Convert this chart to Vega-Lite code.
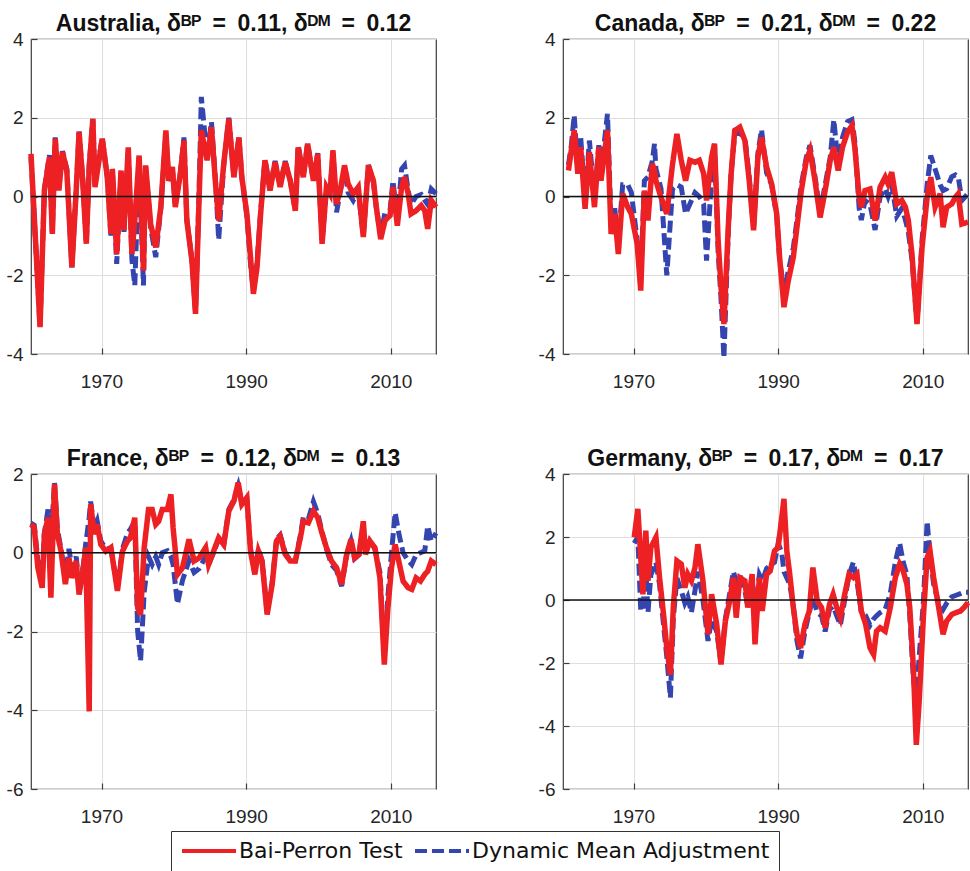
{
  "$schema": "https://vega.github.io/schema/vega-lite/v6.json",
  "background": "white",
  "padding": {"left": 0, "top": 12, "right": 0, "bottom": 0},
  "config": {
    "font": "Liberation Sans",
    "view": {"stroke": "#3c3c3c", "strokeWidth": 1.2},
    "axis": {
      "grid": true, "gridColor": "#dedede", "gridWidth": 1,
      "domain": false, "ticks": true, "tickSize": -6, "tickColor": "#3c3c3c", "tickWidth": 1.2,
      "labelFont": "Liberation Sans", "labelFontSize": 19, "labelColor": "#262626",
      "labelFlush": false, "labelBound": false, "labelOverlap": false,
      "labelExpr": "'' + datum.value",
      "title": null
    },
    "axisX": {"labelPadding": 24},
    "axisY": {"labelPadding": 14, "minExtent": 30, "maxExtent": 30},
    "title": {"font": "Liberation Sans", "fontSize": 23, "fontWeight": "bold", "color": "#111111", "anchor": "middle", "frame": "group", "offset": -6},
    "legend": {
      "orient": "none", "legendX": 140, "legendY": 792,
      "direction": "horizontal", "symbolType": "M-1,0H5", "symbolSize": 324, "symbolStrokeWidth": 4,
      "labelFont": "DejaVu Sans", "labelFontSize": 22, "labelColor": "#111111", "labelLimit": 500,
      "labelOffset": 37, "columnPadding": 4, "padding": 9,
      "strokeColor": "#333333", "fillColor": "white"
    }
  },
  "datasets": {
    "au": [
      {"t":1960.25,"bp":1.08,"dm":1.0},{"t":1961.5,"bp":-3.32,"dm":-3.3},{"t":1962.1,"bp":0.15,"dm":0.2},{"t":1962.8,"bp":1.0,"dm":1.05},
      {"t":1963.2,"bp":-0.95,"dm":-0.9},{"t":1963.6,"bp":1.47,"dm":1.5},{"t":1964.1,"bp":0.15,"dm":0.2},{"t":1964.6,"bp":1.13,"dm":1.15},
      {"t":1965.2,"bp":0.66,"dm":0.7},{"t":1965.9,"bp":-1.8,"dm":-1.8},{"t":1966.5,"bp":0.15,"dm":0.2},{"t":1966.9,"bp":1.64,"dm":1.65},
      {"t":1967.4,"bp":0.4,"dm":0.45},{"t":1967.9,"bp":-1.2,"dm":-1.2},{"t":1968.3,"bp":0.75,"dm":0.8},{"t":1968.8,"bp":1.97,"dm":1.97},
      {"t":1969.1,"bp":0.24,"dm":0.3},{"t":1970.1,"bp":1.47,"dm":1.5},{"t":1970.8,"bp":0.49,"dm":0.5},{"t":1971.3,"bp":-0.95,"dm":-1.0},
      {"t":1971.5,"bp":0.7,"dm":0.7},{"t":1972.1,"bp":-1.46,"dm":-1.71},{"t":1972.7,"bp":0.66,"dm":0.6},{"t":1973.1,"bp":-0.86,"dm":-0.9},
      {"t":1973.7,"bp":1.25,"dm":1.2},{"t":1974.2,"bp":-1.46,"dm":-1.6},{"t":1974.6,"bp":-0.61,"dm":-2.26},{"t":1975.2,"bp":1.04,"dm":1.0},
      {"t":1975.8,"bp":-1.88,"dm":-2.26},{"t":1976.1,"bp":0.79,"dm":0.75},{"t":1976.8,"bp":-0.7,"dm":-0.8},{"t":1977.5,"bp":-1.29,"dm":-1.54},
      {"t":1978.2,"bp":-0.27,"dm":-0.3},{"t":1978.9,"bp":1.68,"dm":1.6},{"t":1979.3,"bp":0.4,"dm":0.4},{"t":1979.8,"bp":0.75,"dm":0.7},
      {"t":1980.2,"bp":-0.27,"dm":-0.2},{"t":1980.9,"bp":0.58,"dm":0.6},{"t":1981.4,"bp":1.42,"dm":1.5},{"t":1981.8,"bp":-0.61,"dm":-0.6},
      {"t":1982.5,"bp":-1.63,"dm":-1.6},{"t":1983.0,"bp":-2.98,"dm":-2.95},{"t":1983.5,"bp":-0.02,"dm":0.2},{"t":1983.8,"bp":1.68,"dm":2.53},
      {"t":1984.6,"bp":0.92,"dm":1.0},{"t":1985.2,"bp":1.76,"dm":1.9},{"t":1985.8,"bp":0.24,"dm":0.3},{"t":1986.2,"bp":-0.61,"dm":-1.1},
      {"t":1986.9,"bp":0.83,"dm":0.8},{"t":1987.6,"bp":1.97,"dm":2.0},{"t":1988.3,"bp":0.49,"dm":0.5},{"t":1989.0,"bp":1.5,"dm":1.5},
      {"t":1989.4,"bp":0.49,"dm":0.5},{"t":1990.1,"bp":-0.44,"dm":-0.5},{"t":1990.6,"bp":-1.54,"dm":-1.7},{"t":1991.0,"bp":-2.47,"dm":-2.4},
      {"t":1991.5,"bp":-1.8,"dm":-1.7},{"t":1992.0,"bp":-0.44,"dm":-0.4},{"t":1992.6,"bp":0.92,"dm":0.95},{"t":1993.3,"bp":0.15,"dm":0.2},
      {"t":1994.0,"bp":0.87,"dm":0.9},{"t":1994.7,"bp":0.24,"dm":0.3},{"t":1995.4,"bp":0.87,"dm":0.9},{"t":1996.1,"bp":0.4,"dm":0.4},
      {"t":1996.8,"bp":-0.36,"dm":-0.35},{"t":1997.2,"bp":1.25,"dm":1.3},{"t":1997.9,"bp":0.49,"dm":0.5},{"t":1998.5,"bp":1.34,"dm":1.35},
      {"t":1999.3,"bp":0.4,"dm":0.4},{"t":1999.9,"bp":1.08,"dm":1.1},{"t":2000.5,"bp":-1.2,"dm":-1.15},{"t":2001.1,"bp":0.24,"dm":0.2},
      {"t":2001.6,"bp":0.07,"dm":0.1},{"t":2002.0,"bp":1.17,"dm":1.1},{"t":2002.5,"bp":-0.19,"dm":-0.4},{"t":2003.0,"bp":0.15,"dm":0.1},
      {"t":2003.6,"bp":0.79,"dm":0.7},{"t":2004.1,"bp":0.32,"dm":0.1},{"t":2004.8,"bp":0.07,"dm":-0.1},{"t":2005.5,"bp":0.24,"dm":0.15},
      {"t":2006.2,"bp":-1.03,"dm":-1.0},{"t":2006.9,"bp":0.79,"dm":0.8},{"t":2007.6,"bp":0.4,"dm":0.35},{"t":2008.0,"bp":-0.27,"dm":-0.3},
      {"t":2008.6,"bp":-1.08,"dm":-1.0},{"t":2009.2,"bp":-0.61,"dm":-0.4},{"t":2009.9,"bp":-0.48,"dm":-0.35},{"t":2010.3,"bp":0.24,"dm":0.4},
      {"t":2010.9,"bp":-0.74,"dm":-0.6},{"t":2011.5,"bp":0.24,"dm":0.7},{"t":2011.9,"bp":0.49,"dm":0.79},{"t":2012.4,"bp":0.07,"dm":0.15},
      {"t":2012.8,"bp":-0.44,"dm":-0.2},{"t":2013.5,"bp":-0.36,"dm":0.0},{"t":2014.2,"bp":-0.23,"dm":0.05},{"t":2014.7,"bp":-0.36,"dm":-0.1},
      {"t":2015.1,"bp":-0.82,"dm":-0.2},{"t":2015.6,"bp":-0.1,"dm":0.19},{"t":2016.25,"bp":-0.27,"dm":0.07}
    ],
    "ca": [
      {"t":1961.0,"bp":0.66,"dm":0.8},{"t":1961.4,"bp":1.17,"dm":1.3},{"t":1961.8,"bp":1.68,"dm":2.06},{"t":1962.3,"bp":0.58,"dm":0.7},
      {"t":1962.7,"bp":1.25,"dm":1.5},{"t":1963.3,"bp":-0.31,"dm":-0.1},{"t":1963.9,"bp":1.13,"dm":1.42},{"t":1964.6,"bp":-0.27,"dm":0.0},
      {"t":1965.2,"bp":1.25,"dm":1.3},{"t":1965.5,"bp":0.4,"dm":0.6},{"t":1966.4,"bp":1.68,"dm":2.1},{"t":1966.9,"bp":-0.95,"dm":-0.7},
      {"t":1967.4,"bp":-0.44,"dm":-0.3},{"t":1967.9,"bp":-1.46,"dm":-1.2},{"t":1968.5,"bp":0.07,"dm":0.3},{"t":1969.2,"bp":-0.27,"dm":0.3},
      {"t":1969.7,"bp":-0.44,"dm":0.1},{"t":1970.5,"bp":-1.2,"dm":-1.1},{"t":1971.0,"bp":-2.39,"dm":-2.1},{"t":1971.5,"bp":0.15,"dm":0.4},
      {"t":1972.0,"bp":-0.61,"dm":0.5},{"t":1972.6,"bp":0.83,"dm":0.9},{"t":1972.9,"bp":0.65,"dm":1.34},{"t":1973.1,"bp":0.4,"dm":0.7},
      {"t":1973.8,"bp":-0.02,"dm":0.2},{"t":1974.6,"bp":-0.44,"dm":-2.0},{"t":1975.4,"bp":0.83,"dm":0.2},{"t":1976.0,"bp":1.59,"dm":0.3},
      {"t":1976.6,"bp":0.92,"dm":0.24},{"t":1977.2,"bp":0.4,"dm":-0.44},{"t":1977.8,"bp":0.92,"dm":-0.19},{"t":1978.5,"bp":0.87,"dm":0.1},
      {"t":1979.1,"bp":0.92,"dm":0.0},{"t":1979.7,"bp":0.58,"dm":-0.2},{"t":1980.1,"bp":-0.1,"dm":-1.63},{"t":1980.8,"bp":1.0,"dm":0.5},
      {"t":1981.2,"bp":1.34,"dm":1.34},{"t":1981.7,"bp":-1.12,"dm":-1.4},{"t":1982.1,"bp":-2.3,"dm":-2.6},{"t":1982.5,"bp":-3.24,"dm":-4.1},
      {"t":1983.1,"bp":-0.78,"dm":-0.9},{"t":1983.5,"bp":0.58,"dm":0.6},{"t":1984.0,"bp":1.68,"dm":1.6},{"t":1984.7,"bp":1.76,"dm":1.6},
      {"t":1985.4,"bp":1.42,"dm":1.5},{"t":1986.0,"bp":0.4,"dm":0.5},{"t":1986.6,"bp":-0.86,"dm":-0.8},{"t":1987.2,"bp":1.0,"dm":1.1},
      {"t":1987.7,"bp":1.5,"dm":1.7},{"t":1988.4,"bp":0.75,"dm":0.6},{"t":1989.1,"bp":0.32,"dm":0.3},{"t":1989.8,"bp":-0.44,"dm":-0.5},
      {"t":1990.2,"bp":-1.54,"dm":-1.6},{"t":1990.8,"bp":-2.81,"dm":-2.4},{"t":1991.4,"bp":-2.14,"dm":-1.9},{"t":1992.1,"bp":-1.54,"dm":-1.3},
      {"t":1992.6,"bp":-0.78,"dm":-0.6},{"t":1993.2,"bp":0.15,"dm":0.3},{"t":1993.9,"bp":0.92,"dm":1.0},{"t":1994.4,"bp":1.17,"dm":1.3},
      {"t":1995.1,"bp":0.4,"dm":0.5},{"t":1995.8,"bp":-0.53,"dm":-0.4},{"t":1996.5,"bp":0.15,"dm":0.3},{"t":1997.2,"bp":0.92,"dm":1.0},
      {"t":1997.7,"bp":1.25,"dm":1.95},{"t":1998.3,"bp":0.66,"dm":0.8},{"t":1998.9,"bp":1.25,"dm":1.5},{"t":1999.6,"bp":1.64,"dm":1.9},
      {"t":2000.2,"bp":1.8,"dm":1.95},{"t":2000.6,"bp":1.25,"dm":1.4},{"t":2001.2,"bp":-0.02,"dm":-0.3},{"t":2001.5,"bp":-0.27,"dm":-0.6},
      {"t":2002.0,"bp":0.15,"dm":-0.1},{"t":2002.7,"bp":0.19,"dm":-0.2},{"t":2003.4,"bp":-0.61,"dm":-0.85},{"t":2004.1,"bp":0.24,"dm":0.0},
      {"t":2004.8,"bp":0.49,"dm":0.2},{"t":2005.2,"bp":0.32,"dm":0.0},{"t":2005.7,"bp":0.62,"dm":0.3},{"t":2006.4,"bp":-0.19,"dm":-0.5},
      {"t":2007.1,"bp":-0.1,"dm":-0.3},{"t":2007.6,"bp":-0.27,"dm":-0.6},{"t":2008.0,"bp":-0.61,"dm":-0.9},{"t":2008.5,"bp":-1.46,"dm":-1.6},
      {"t":2009.2,"bp":-3.24,"dm":-3.2},{"t":2009.9,"bp":-1.29,"dm":-1.1},{"t":2010.6,"bp":-0.02,"dm":0.3},{"t":2011.1,"bp":0.49,"dm":1.04},
      {"t":2011.7,"bp":-0.27,"dm":0.7},{"t":2012.4,"bp":0.07,"dm":0.3},{"t":2012.8,"bp":-0.78,"dm":0.15},{"t":2013.3,"bp":-0.27,"dm":0.2},
      {"t":2014.0,"bp":-0.19,"dm":0.5},{"t":2014.5,"bp":-0.02,"dm":0.55},{"t":2014.9,"bp":0.07,"dm":0.5},{"t":2015.4,"bp":-0.7,"dm":-0.1},
      {"t":2016.25,"bp":-0.65,"dm":0.07}
    ],
    "fr": [
      {"t":1960.25,"bp":0.72,"dm":0.75},{"t":1960.7,"bp":0.64,"dm":0.7},{"t":1961.2,"bp":-0.38,"dm":-0.2},{"t":1961.8,"bp":-0.89,"dm":-0.7},
      {"t":1962.1,"bp":0.47,"dm":0.5},{"t":1962.6,"bp":0.89,"dm":1.1},{"t":1963.0,"bp":-1.14,"dm":0.3},{"t":1963.5,"bp":1.74,"dm":1.78},
      {"t":1963.9,"bp":0.47,"dm":0.6},{"t":1964.4,"bp":0.04,"dm":0.1},{"t":1965.0,"bp":-0.8,"dm":-0.6},{"t":1965.5,"bp":-0.13,"dm":0.1},
      {"t":1965.9,"bp":-0.64,"dm":-0.4},{"t":1966.5,"bp":-0.21,"dm":-0.1},{"t":1966.9,"bp":-1.06,"dm":-0.9},{"t":1967.5,"bp":-0.38,"dm":-0.3},
      {"t":1967.8,"bp":0.13,"dm":0.2},{"t":1968.3,"bp":-4.03,"dm":0.9},{"t":1968.5,"bp":1.23,"dm":1.3},{"t":1969.0,"bp":0.47,"dm":0.6},
      {"t":1969.4,"bp":0.72,"dm":0.8},{"t":1969.9,"bp":0.21,"dm":0.3},{"t":1970.6,"bp":0.04,"dm":0.1},{"t":1971.3,"bp":0.13,"dm":0.1},
      {"t":1972.2,"bp":-0.97,"dm":-0.9},{"t":1972.9,"bp":0.04,"dm":0.1},{"t":1973.6,"bp":0.3,"dm":0.5},{"t":1974.0,"bp":0.38,"dm":0.6},
      {"t":1974.6,"bp":0.89,"dm":0.8},{"t":1975.0,"bp":-1.4,"dm":-2.0},{"t":1975.4,"bp":-1.57,"dm":-2.75},{"t":1975.9,"bp":0.13,"dm":-1.0},
      {"t":1976.5,"bp":1.1,"dm":-0.1},{"t":1977.0,"bp":1.1,"dm":-0.3},{"t":1977.5,"bp":0.72,"dm":-0.1},{"t":1977.9,"bp":0.8,"dm":-0.3},
      {"t":1978.4,"bp":1.1,"dm":0.0},{"t":1979.1,"bp":1.1,"dm":0.05},{"t":1979.6,"bp":1.48,"dm":-0.1},{"t":1979.9,"bp":0.64,"dm":-0.3},
      {"t":1980.5,"bp":-0.55,"dm":-1.3},{"t":1981.2,"bp":-0.38,"dm":-0.7},{"t":1982.1,"bp":0.34,"dm":-0.2},{"t":1982.8,"bp":-0.21,"dm":-0.5},
      {"t":1983.5,"bp":-0.13,"dm":-0.4},{"t":1984.4,"bp":0.13,"dm":-0.1},{"t":1984.8,"bp":-0.3,"dm":-0.3},{"t":1985.5,"bp":0.04,"dm":0.0},
      {"t":1986.2,"bp":0.38,"dm":0.35},{"t":1986.9,"bp":0.21,"dm":0.2},{"t":1987.6,"bp":1.06,"dm":1.1},{"t":1988.3,"bp":1.31,"dm":1.35},
      {"t":1988.9,"bp":1.78,"dm":1.7},{"t":1989.4,"bp":1.23,"dm":1.25},{"t":1990.1,"bp":1.4,"dm":1.35},{"t":1990.6,"bp":0.04,"dm":0.1},
      {"t":1991.2,"bp":-0.55,"dm":-0.5},{"t":1991.7,"bp":0.04,"dm":0.1},{"t":1992.2,"bp":-0.21,"dm":-0.2},{"t":1992.9,"bp":-1.57,"dm":-1.5},
      {"t":1993.6,"bp":-0.8,"dm":-0.75},{"t":1994.2,"bp":0.3,"dm":0.35},{"t":1994.7,"bp":0.42,"dm":0.45},{"t":1995.4,"bp":-0.04,"dm":0.0},
      {"t":1996.1,"bp":-0.21,"dm":-0.2},{"t":1996.8,"bp":-0.21,"dm":-0.2},{"t":1997.5,"bp":0.38,"dm":0.45},{"t":1997.9,"bp":0.8,"dm":0.9},
      {"t":1998.6,"bp":0.76,"dm":0.85},{"t":1999.3,"bp":1.06,"dm":1.3},{"t":1999.9,"bp":0.89,"dm":1.0},{"t":2000.4,"bp":0.55,"dm":0.6},
      {"t":2001.1,"bp":0.13,"dm":0.1},{"t":2001.8,"bp":-0.21,"dm":-0.3},{"t":2002.5,"bp":-0.38,"dm":-0.45},{"t":2003.2,"bp":-0.8,"dm":-0.85},
      {"t":2003.9,"bp":-0.04,"dm":-0.05},{"t":2004.5,"bp":0.34,"dm":0.3},{"t":2005.0,"bp":-0.13,"dm":-0.15},{"t":2005.6,"bp":-0.04,"dm":-0.05},
      {"t":2006.2,"bp":0.8,"dm":0.7},{"t":2006.5,"bp":-0.04,"dm":0.0},{"t":2007.1,"bp":0.3,"dm":0.3},{"t":2007.8,"bp":0.13,"dm":0.1},
      {"t":2008.5,"bp":-0.64,"dm":-0.5},{"t":2009.1,"bp":-2.84,"dm":-2.6},{"t":2009.6,"bp":-1.4,"dm":-1.1},{"t":2010.1,"bp":-0.38,"dm":0.0},
      {"t":2010.6,"bp":0.21,"dm":1.02},{"t":2011.1,"bp":-0.21,"dm":0.5},{"t":2011.7,"bp":-0.72,"dm":0.0},{"t":2012.4,"bp":-0.89,"dm":-0.2},
      {"t":2012.9,"bp":-0.93,"dm":-0.3},{"t":2013.5,"bp":-0.64,"dm":-0.05},{"t":2014.1,"bp":-0.72,"dm":0.0},{"t":2014.7,"bp":-0.55,"dm":0.05},
      {"t":2015.1,"bp":-0.47,"dm":0.68},{"t":2015.6,"bp":-0.21,"dm":0.3},{"t":2016.25,"bp":-0.3,"dm":0.5}
    ],
    "de": [
      {"t":1970.1,"bp":1.99,"dm":1.8},{"t":1970.6,"bp":2.89,"dm":2.0},{"t":1971.0,"bp":1.35,"dm":-0.35},{"t":1971.3,"bp":0.18,"dm":-0.3},
      {"t":1971.7,"bp":2.2,"dm":1.0},{"t":1972.0,"bp":0.61,"dm":-0.4},{"t":1972.4,"bp":1.67,"dm":0.8},{"t":1973.1,"bp":1.99,"dm":1.2},
      {"t":1973.6,"bp":0.71,"dm":0.5},{"t":1974.2,"bp":-0.56,"dm":-0.9},{"t":1974.6,"bp":-1.52,"dm":-1.8},{"t":1975.1,"bp":-2.37,"dm":-3.1},
      {"t":1975.5,"bp":-0.24,"dm":-0.6},{"t":1976.0,"bp":1.24,"dm":0.7},{"t":1976.6,"bp":1.14,"dm":0.3},{"t":1977.1,"bp":0.39,"dm":-0.1},
      {"t":1977.5,"bp":0.82,"dm":0.1},{"t":1978.0,"bp":0.61,"dm":-0.4},{"t":1978.5,"bp":1.03,"dm":0.3},{"t":1978.9,"bp":1.77,"dm":0.9},
      {"t":1979.6,"bp":0.61,"dm":0.0},{"t":1980.3,"bp":-1.09,"dm":-1.3},{"t":1980.8,"bp":0.18,"dm":-0.6},{"t":1981.5,"bp":-0.77,"dm":-1.0},
      {"t":1982.1,"bp":-2.05,"dm":-2.0},{"t":1982.7,"bp":-0.67,"dm":-0.6},{"t":1983.3,"bp":-0.03,"dm":0.2},{"t":1983.8,"bp":0.71,"dm":0.9},
      {"t":1984.2,"bp":-0.56,"dm":0.6},{"t":1984.7,"bp":0.71,"dm":0.8},{"t":1985.4,"bp":0.61,"dm":0.3},{"t":1985.8,"bp":-0.24,"dm":-0.2},
      {"t":1986.4,"bp":0.82,"dm":0.3},{"t":1986.8,"bp":-1.41,"dm":-0.4},{"t":1987.4,"bp":0.71,"dm":0.8},{"t":1987.8,"bp":-0.35,"dm":0.6},
      {"t":1988.4,"bp":0.82,"dm":1.0},{"t":1988.9,"bp":0.92,"dm":1.1},{"t":1989.5,"bp":1.56,"dm":1.2},{"t":1990.0,"bp":1.67,"dm":1.8},
      {"t":1990.5,"bp":2.62,"dm":1.5},{"t":1990.8,"bp":3.21,"dm":0.9},{"t":1991.2,"bp":1.56,"dm":0.7},{"t":1991.6,"bp":0.82,"dm":0.5},
      {"t":1992.1,"bp":-0.24,"dm":-0.2},{"t":1992.6,"bp":-1.09,"dm":-1.3},{"t":1993.1,"bp":-1.52,"dm":-1.85},{"t":1993.7,"bp":-0.77,"dm":-1.0},
      {"t":1994.3,"bp":-0.35,"dm":-0.4},{"t":1994.8,"bp":1.03,"dm":0.1},{"t":1995.4,"bp":-0.03,"dm":-0.4},{"t":1996.0,"bp":-0.24,"dm":-0.5},
      {"t":1996.5,"bp":-0.88,"dm":-1.0},{"t":1997.1,"bp":-0.14,"dm":-0.3},{"t":1997.6,"bp":0.18,"dm":-0.2},{"t":1998.1,"bp":-0.24,"dm":-0.5},
      {"t":1998.6,"bp":-0.56,"dm":-0.8},{"t":1999.2,"bp":0.18,"dm":0.0},{"t":1999.8,"bp":0.82,"dm":0.8},{"t":2000.4,"bp":0.71,"dm":1.2},
      {"t":2000.9,"bp":0.82,"dm":0.6},{"t":2001.5,"bp":-0.35,"dm":-0.4},{"t":2002.1,"bp":-0.77,"dm":-0.5},{"t":2002.7,"bp":-1.52,"dm":-0.8},
      {"t":2003.2,"bp":-1.73,"dm":-0.6},{"t":2003.6,"bp":-0.99,"dm":-0.5},{"t":2004.1,"bp":-0.88,"dm":-0.4},{"t":2004.8,"bp":-0.99,"dm":-0.3},
      {"t":2005.5,"bp":-0.24,"dm":0.2},{"t":2006.2,"bp":0.71,"dm":1.2},{"t":2006.8,"bp":1.14,"dm":1.8},{"t":2007.3,"bp":0.92,"dm":1.2},
      {"t":2007.8,"bp":0.5,"dm":0.8},{"t":2008.2,"bp":-0.24,"dm":-0.5},{"t":2008.7,"bp":-2.16,"dm":-2.5},{"t":2009.1,"bp":-4.6,"dm":-3.2},
      {"t":2009.5,"bp":-3.22,"dm":-1.8},{"t":2010.1,"bp":-0.46,"dm":0.0},{"t":2010.6,"bp":1.35,"dm":2.5},{"t":2011.0,"bp":1.56,"dm":1.4},
      {"t":2011.5,"bp":0.71,"dm":0.5},{"t":2012.2,"bp":-0.24,"dm":-0.1},{"t":2012.8,"bp":-1.09,"dm":-0.3},{"t":2013.3,"bp":-0.67,"dm":-0.1},
      {"t":2014.0,"bp":-0.46,"dm":0.1},{"t":2014.6,"bp":-0.4,"dm":0.15},{"t":2015.2,"bp":-0.35,"dm":0.2},{"t":2015.7,"bp":-0.24,"dm":0.25},
      {"t":2016.25,"bp":-0.08,"dm":0.25}
    ]
  },
  "spacing": 55,
  "vconcat": [
    {
      "spacing": 84,
      "hconcat": [
        {
          "title": "Australia, δᴮᴾ\u2002=\u20020.11, δᴰᴹ\u2002=\u20020.12",
          "width": 405, "height": 315,
          "data": {"name": "au"},
          "layer": [
            {
              "transform": [{"fold": ["dm", "bp"], "as": ["series", "value"]}, {"filter": "datum.series === 'dm'"}],
              "mark": {"type": "line", "strokeWidth": 5},
              "encoding": {
                "x": {"field": "t", "type": "quantitative", "scale": {"domain": [1960.25, 2016.25], "nice": false, "zero": false}, "axis": {"values": [1970, 1990, 2010]}},
                "y": {"field": "value", "type": "quantitative", "scale": {"domain": [-4, 4], "nice": false, "zero": false}, "axis": {"values": [-4, -2, 0, 2, 4]}},
                "color": {"field": "series", "type": "nominal", "scale": {"domain": ["bp", "dm"], "range": ["#ed2024", "#3545b0"]}, "legend": {"title": null, "symbolType": "M-1,0H5", "labelExpr": "datum.label === 'bp' ? 'Bai-Perron Test' : 'Dynamic Mean Adjustment'"}},
                "strokeDash": {"field": "series", "type": "nominal", "scale": {"domain": ["bp", "dm"], "range": [[1, 0], [12, 5]]}, "legend": {"title": null, "symbolType": "M-1,0H5", "labelExpr": "datum.label === 'bp' ? 'Bai-Perron Test' : 'Dynamic Mean Adjustment'"}}
              }
            },
            {
              "transform": [{"fold": ["dm", "bp"], "as": ["series", "value"]}, {"filter": "datum.series === 'bp'"}],
              "mark": {"type": "line", "strokeWidth": 5.5},
              "encoding": {
                "x": {"field": "t", "type": "quantitative"},
                "y": {"field": "value", "type": "quantitative"},
                "color": {"field": "series", "type": "nominal"},
                "strokeDash": {"field": "series", "type": "nominal"}
              }
            },
            {
              "data": {"values": [{"zero": 0}]},
              "mark": {"type": "rule", "color": "#111111", "strokeWidth": 1.4},
              "encoding": {"y": {"field": "zero", "type": "quantitative"}}
            }
          ]
        },
        {
          "title": "Canada, δᴮᴾ\u2002=\u20020.21, δᴰᴹ\u2002=\u20020.22",
          "width": 405, "height": 315,
          "data": {"name": "ca"},
          "layer": [
            {
              "transform": [{"fold": ["dm", "bp"], "as": ["series", "value"]}, {"filter": "datum.series === 'dm'"}],
              "mark": {"type": "line", "strokeWidth": 5},
              "encoding": {
                "x": {"field": "t", "type": "quantitative", "scale": {"domain": [1960.25, 2016.25], "nice": false, "zero": false}, "axis": {"values": [1970, 1990, 2010]}},
                "y": {"field": "value", "type": "quantitative", "scale": {"domain": [-4, 4], "nice": false, "zero": false}, "axis": {"values": [-4, -2, 0, 2, 4]}},
                "color": {"field": "series", "type": "nominal"},
                "strokeDash": {"field": "series", "type": "nominal"}
              }
            },
            {
              "transform": [{"fold": ["dm", "bp"], "as": ["series", "value"]}, {"filter": "datum.series === 'bp'"}],
              "mark": {"type": "line", "strokeWidth": 5.5},
              "encoding": {
                "x": {"field": "t", "type": "quantitative"},
                "y": {"field": "value", "type": "quantitative"},
                "color": {"field": "series", "type": "nominal"},
                "strokeDash": {"field": "series", "type": "nominal"}
              }
            },
            {
              "data": {"values": [{"zero": 0}]},
              "mark": {"type": "rule", "color": "#111111", "strokeWidth": 1.4},
              "encoding": {"y": {"field": "zero", "type": "quantitative"}}
            }
          ]
        }
      ]
    },
    {
      "spacing": 84,
      "hconcat": [
        {
          "title": "France, δᴮᴾ\u2002=\u20020.12, δᴰᴹ\u2002=\u20020.13",
          "width": 405, "height": 315,
          "data": {"name": "fr"},
          "layer": [
            {
              "transform": [{"fold": ["dm", "bp"], "as": ["series", "value"]}, {"filter": "datum.series === 'dm'"}],
              "mark": {"type": "line", "strokeWidth": 5},
              "encoding": {
                "x": {"field": "t", "type": "quantitative", "scale": {"domain": [1960.25, 2016.25], "nice": false, "zero": false}, "axis": {"values": [1970, 1990, 2010]}},
                "y": {"field": "value", "type": "quantitative", "scale": {"domain": [-6, 2], "nice": false, "zero": false}, "axis": {"values": [-6, -4, -2, 0, 2]}},
                "color": {"field": "series", "type": "nominal"},
                "strokeDash": {"field": "series", "type": "nominal"}
              }
            },
            {
              "transform": [{"fold": ["dm", "bp"], "as": ["series", "value"]}, {"filter": "datum.series === 'bp'"}],
              "mark": {"type": "line", "strokeWidth": 5.5},
              "encoding": {
                "x": {"field": "t", "type": "quantitative"},
                "y": {"field": "value", "type": "quantitative"},
                "color": {"field": "series", "type": "nominal"},
                "strokeDash": {"field": "series", "type": "nominal"}
              }
            },
            {
              "data": {"values": [{"zero": 0}]},
              "mark": {"type": "rule", "color": "#111111", "strokeWidth": 1.4},
              "encoding": {"y": {"field": "zero", "type": "quantitative"}}
            }
          ]
        },
        {
          "title": "Germany, δᴮᴾ\u2002=\u20020.17, δᴰᴹ\u2002=\u20020.17",
          "width": 405, "height": 315,
          "data": {"name": "de"},
          "layer": [
            {
              "transform": [{"fold": ["dm", "bp"], "as": ["series", "value"]}, {"filter": "datum.series === 'dm'"}],
              "mark": {"type": "line", "strokeWidth": 5},
              "encoding": {
                "x": {"field": "t", "type": "quantitative", "scale": {"domain": [1960.25, 2016.25], "nice": false, "zero": false}, "axis": {"values": [1970, 1990, 2010]}},
                "y": {"field": "value", "type": "quantitative", "scale": {"domain": [-6, 4], "nice": false, "zero": false}, "axis": {"values": [-6, -4, -2, 0, 2, 4]}},
                "color": {"field": "series", "type": "nominal"},
                "strokeDash": {"field": "series", "type": "nominal"}
              }
            },
            {
              "transform": [{"fold": ["dm", "bp"], "as": ["series", "value"]}, {"filter": "datum.series === 'bp'"}],
              "mark": {"type": "line", "strokeWidth": 5.5},
              "encoding": {
                "x": {"field": "t", "type": "quantitative"},
                "y": {"field": "value", "type": "quantitative"},
                "color": {"field": "series", "type": "nominal"},
                "strokeDash": {"field": "series", "type": "nominal"}
              }
            },
            {
              "data": {"values": [{"zero": 0}]},
              "mark": {"type": "rule", "color": "#111111", "strokeWidth": 1.4},
              "encoding": {"y": {"field": "zero", "type": "quantitative"}}
            }
          ]
        }
      ]
    }
  ]
}
